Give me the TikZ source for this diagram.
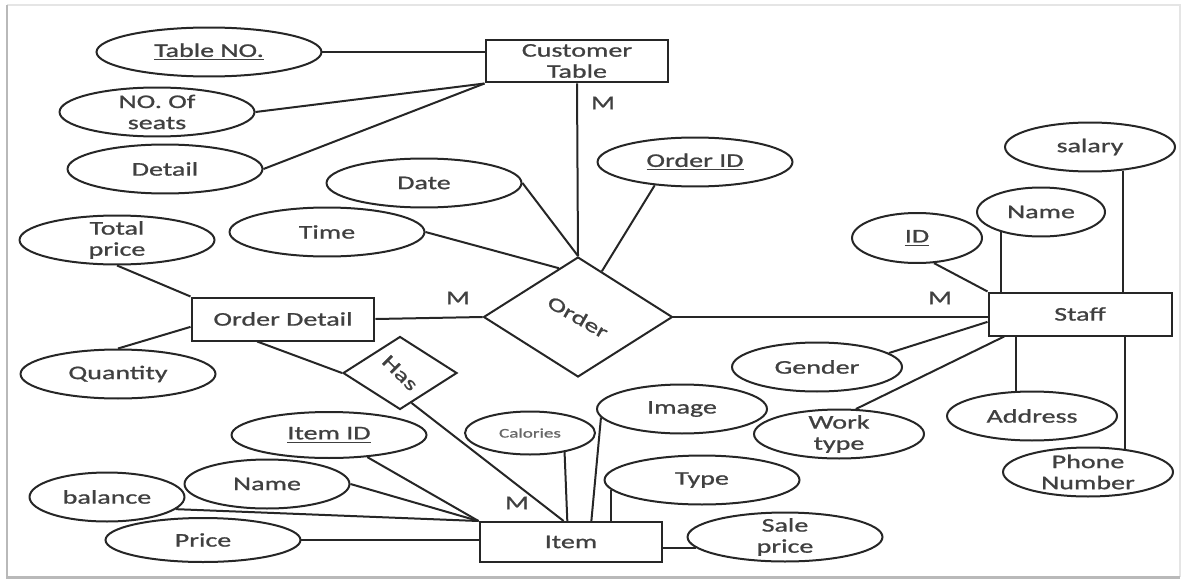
\documentclass[tikz,border=0pt]{standalone}
\usepackage{fontspec}
\setmainfont{Carlito}[FakeStretch=1.45, FakeBold=1]
\usepackage{graphicx}
\usetikzlibrary{calc}
\usetikzlibrary{shapes, positioning}
\tikzset{>=stealth}
\tikzset{
	entity/.style={draw, rectangle, align=center, inner sep=0pt, minimum width=3.66cm, minimum height=0.86cm},
	attr/.style={draw, ellipse, align=center, inner xsep=0pt, inner ysep=-2pt, minimum width=3.9cm, minimum height=0.98cm},
	rel/.style={draw, diamond, aspect=1.57, inner sep=0pt},
	card/.style={inner sep=1pt}
}

\begin{document}
\begin{tikzpicture}[x=0.02cm, y=-0.02cm, line width=0.04cm, color=black!85, text=black!75, font=\fontsize{11}{12}\selectfont]
	\useasboundingbox (0,0) rectangle (1185,581);
	% frame of the screenshot
	\draw [gray!20, line width=0.05cm] (7,5) -- (1180,5) -- (1180,577);
	\draw [gray!55, line width=0.06cm] (7,5) -- (7,577) -- (1180,577);

	% entities
	\draw (577,61) node (cust) [entity] {Customer\\Table};
	\draw (283,319) node (odetail) [entity] {Order Detail};
	\draw (1080,314) node (staff) [entity] {Staff};
	\draw (571,542) node (item) [entity, minimum height=0.8cm] {Item};

	% relationships
	\draw (578,317) node (order) [rel, minimum width=3.78cm, minimum height=2.4cm] {\rotatebox{-30}{Order}};
	\draw (400,373) node (has) [rel, minimum width=2.28cm, minimum height=1.46cm] {\rotatebox{-45}{Has}};

	% attributes of Customer Table
	\draw (209,52) node (tableno) [attr, minimum width=4.5cm] {\underline{Table NO.}};
	\draw (157,112) node (seats) [attr] {NO. Of\\seats};
	\draw (165,169) node (detail) [attr] {Detail};
	\draw [-] (tableno.east) -- (tableno.east -| cust.west);
	\draw [-] (seats.east) -- (cust.south west);
	\draw [-] (detail.east) -- (cust.south west);

	% attributes of Order
	\draw (424,183) node (date) [attr] {Date};
	\draw (327,232) node (time) [attr] {Time};
	\draw (695,162) node (orderid) [attr] {\underline{Order ID}};
	\draw [-] (date.east) -- (order.north);
	\draw [-] (time.east) -- ($(order.north)!0.2!(order.west)$);
	\draw [-] (orderid.210) -- ($(order.north)!0.25!(order.east)$);

	% attributes of Order Detail
	\draw (117,240) node (tprice) [attr] {Total\\price};
	\draw (118,374) node (quantity) [attr] {Quantity};
	\draw [-] (tprice.south) -- (odetail.north west);
	\draw [-] (quantity.north) -- ($(odetail.west)!0.35!(odetail.south west)$);

	% attributes of Staff
	\draw (1090,147) node (salary) [attr, minimum width=3.4cm] {salary};
	\draw (1041,212) node (sname) [attr, minimum width=2.56cm] {Name};
	\draw (917,238) node (sid) [attr, minimum width=2.6cm, minimum height=1cm] {\underline{ID}};
	\draw (817,367) node (gender) [attr, minimum width=3.4cm] {Gender};
	\draw (839,434) node (wtype) [attr, minimum width=3.4cm] {Work\\type};
	\draw (1032,416) node (addr) [attr, minimum width=3.4cm] {Address};
	\draw (1088,472) node (phone) [attr, minimum width=3.4cm] {Phone\\Number};
	\draw [-] (salary.-36) -- (salary.-36 |- staff.north);
	\draw [-] (sname.207) -- (sname.207 |- staff.north);
	\draw [-] (sid.-56) -- (staff.north west);
	\draw [-] (gender.11) -- ($(staff.west)!0.35!(staff.south west)$);
	\draw [-] (wtype.56) -- ($(staff.south west)!0.09!(staff.south east)$);
	\draw [-] (addr.122) -- (addr.122 |- staff.south);
	\draw [-] (phone.32) -- (phone.32 |- staff.south);

	% attributes of Item
	\draw (329,435) node (itemid) [attr, minimum height=0.92cm] {\underline{Item ID}};
	\draw (267,484) node (iname) [attr, minimum width=3.3cm] {Name};
	\draw (107,497) node (balance) [attr, minimum width=3.1cm] {balance};
	\draw (203,540) node (price) [attr, minimum height=0.88cm] {Price};
	\draw (530,433) node (cal) [attr, minimum width=2.6cm, minimum height=0.86cm, font=\fontsize{7.5}{9}\selectfont, text=black!60] {Calories};
	\draw (682,409) node (img) [attr, minimum width=3.4cm] {Image};
	\draw (702,480) node (ttype) [attr] {Type};
	\draw (785,537) node (sale) [attr] {Sale\\price};
	\draw [-] (itemid.-30) -- (item.north west);
	\draw [-] (iname.east) -- (item.north west);
	\draw [-] (balance.-10) -- (item.north west);
	\draw [-] (price.east) -- (price.east -| item.west);
	\draw [-] (cal.-29) -- ($(item.north west)!0.48!(item.north east)$);
	\draw [-] (img.186) -- ($(item.north west)!0.61!(item.north east)$);
	\draw [-] (ttype.186) -- (ttype.186 |- item.north);
	\draw [-] (sale.187) -- (sale.187 -| item.east);

	% relationship lines and cardinalities
	\draw [-] (cust.south) -- (order.north);
	\draw [-] (odetail.east) -- (order.west);
	\draw [-] (order.east) -- (order.east -| staff.west);
	\draw [-] ($(odetail.south west)!0.36!(odetail.south east)$) -- (has.west);
	\draw [-] ($(has.south)!0.2!(has.east)$) -- ($(item.north west)!0.46!(item.north east)$);
	\draw (603,103) node (mcust) [card] {M};
	\draw (458,298) node (mdetail) [card] {M};
	\draw (940,298) node (mstaff) [card] {M};
	\draw (517,503) node (mitem) [card] {M};
\end{tikzpicture}
\end{document}
